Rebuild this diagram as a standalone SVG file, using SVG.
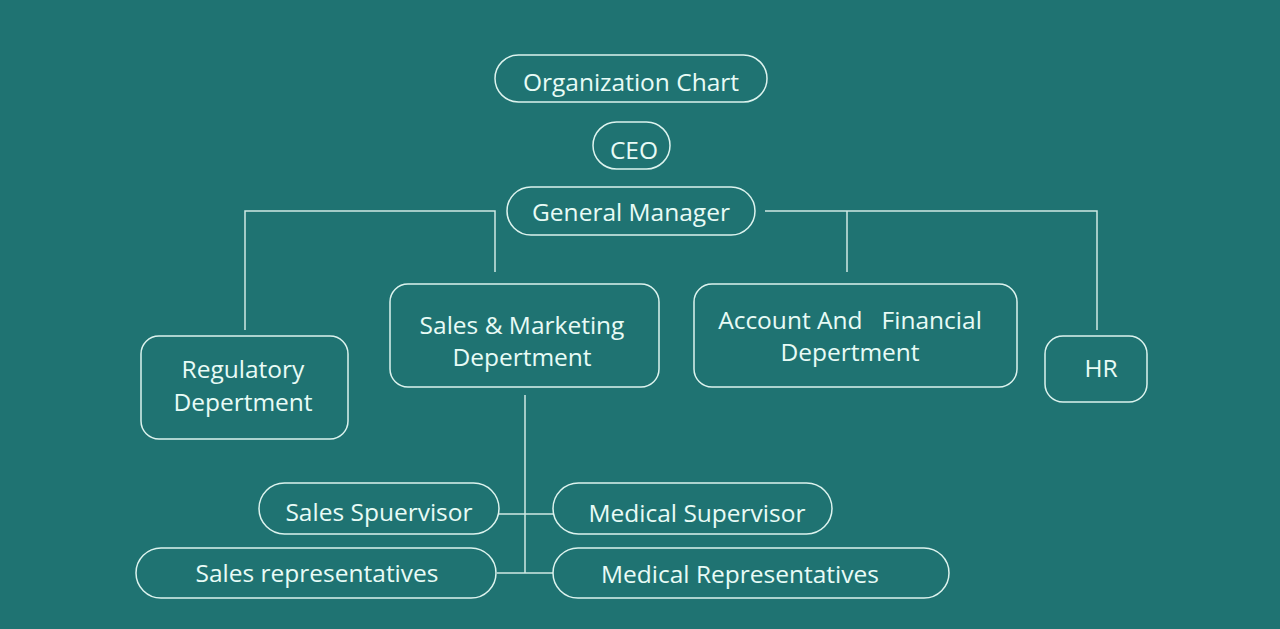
<svg xmlns="http://www.w3.org/2000/svg" width="1280" height="629" viewBox="0 0 1280 629">
<style>
.n rect{fill:none;stroke:#dcf3ee;stroke-width:1.5}
.n text{font-family:"Open Sans","Noto Sans",sans-serif;font-size:24.5px;font-weight:500;fill:#e8fbf6;text-anchor:middle}
.c path{fill:none;stroke:#cfe9e4;stroke-width:1.5}
</style>
<rect width="1280" height="629" fill="#1f7372"/>
<g class="c">
<path d="M495 272V211H245V330"/>
<path d="M765 211H1097V330M847 211V272"/>
<path d="M525 395V573M499 514H553M497 573H553"/>
</g>
<g class="n" id="title"><rect x="495" y="55" width="272" height="47" rx="23.5"/><text x="631" y="91">Organization Chart</text></g>
<g class="n" id="ceo"><rect x="593" y="122" width="77" height="47" rx="23.5"/><text x="634" y="159">CEO</text></g>
<g class="n" id="gm"><rect x="507" y="187" width="248" height="48" rx="24"/><text x="631" y="221">General Manager</text></g>
<g class="n" id="sales"><rect x="390" y="284" width="269" height="103" rx="18"/><text x="522" y="334">Sales &amp; Marketing</text><text x="522" y="366">Depertment</text></g>
<g class="n" id="reg"><rect x="141" y="336" width="207" height="103" rx="18"/><text x="243" y="378">Regulatory</text><text x="243" y="411">Depertment</text></g>
<g class="n" id="acc"><rect x="694" y="284" width="323" height="103" rx="18"/><text x="850" y="329" xml:space="preserve">Account And   Financial</text><text x="850" y="361">Depertment</text></g>
<g class="n" id="hr"><rect x="1045" y="336" width="102" height="66" rx="18"/><text x="1101" y="377">HR</text></g>
<g class="n" id="ssup"><rect x="259" y="483" width="240" height="51" rx="25.5"/><text x="379" y="521">Sales Spuervisor</text></g>
<g class="n" id="msup"><rect x="553" y="483" width="279" height="51" rx="25.5"/><text x="697" y="522">Medical Supervisor</text></g>
<g class="n" id="srep"><rect x="136" y="548" width="360" height="50" rx="25"/><text x="317" y="582">Sales representatives</text></g>
<g class="n" id="mrep"><rect x="553" y="548" width="396" height="50" rx="25"/><text x="740" y="583">Medical Representatives</text></g>
</svg>
